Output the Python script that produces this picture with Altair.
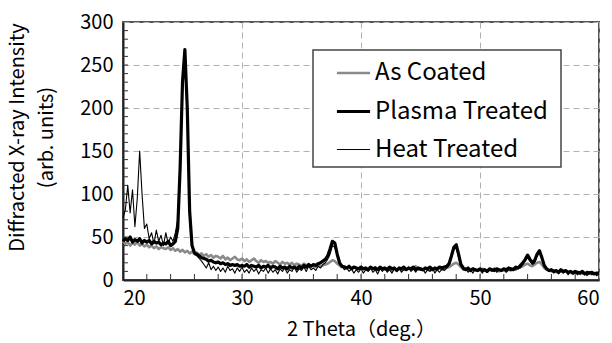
import altair as alt
import pandas as pd

FONT = "Noto Sans CJK JP"

series_names = ["As Coated", "Plasma Treated", "Heat Treated"]
series_colors = ["#8a8a8a", "#000000", "#000000"]
series_widths = [2.6, 3.2, 1.1]

two_theta = [round(20 + 0.2 * i, 1) for i in range(201)]

as_coated = [
    45, 42, 44, 40, 43, 41, 44, 40, 42, 39,
    41, 38, 40, 37, 39, 36, 38, 37, 36, 38,
    35, 37, 34, 36, 33, 35, 32, 34, 31, 33,
    30, 32, 29, 31, 28, 30, 27, 29, 26, 28,
    27, 25, 28, 24, 26, 23, 25, 27, 24, 23,
    25, 22, 24, 21, 23, 25, 22, 20, 23, 21,
    22, 20, 21, 19, 22, 20, 18, 21, 19, 20,
    18, 20, 17, 19, 18, 16, 19, 17, 18, 16,
    17, 15, 18, 16, 17, 18, 19, 21, 23, 22,
    19, 17, 15, 16, 14, 15, 13, 15, 14, 13,
    15, 13, 14, 12, 14, 13, 15, 12, 14, 13,
    12, 14, 13, 11, 14, 12, 13, 11, 13, 12,
    14, 12, 13, 16, 12, 13, 11, 13, 12, 11,
    13, 11, 12, 14, 12, 13, 14, 15, 17, 19,
    20, 18, 15, 12, 13, 11, 12, 13, 11, 12,
    11, 13, 12, 10, 12, 11, 13, 11, 10, 12,
    11, 10, 12, 11, 13, 12, 14, 15, 16, 18,
    19, 17, 16, 18, 20, 21, 18, 14, 12, 11,
    10, 11, 9, 10, 11, 9, 10, 8, 10, 9,
    8, 9, 7, 9, 8, 7, 9, 8, 7, 8,
    7,
]

plasma_treated = [
    45, 48, 46, 50, 44, 47, 45, 48, 43, 46,
    44, 46, 42, 45, 43, 44, 41, 43, 42, 45,
    40, 42, 45, 60, 130, 230, 268, 200, 80, 40,
    32, 30, 28, 26, 25, 24, 22, 23, 21, 20,
    21, 19, 20, 18, 19, 17, 18, 17, 18, 16,
    17, 16, 18, 15, 17, 16, 15, 17, 14, 16,
    15, 17, 14, 16, 15, 13, 16, 14, 15, 13,
    16, 14, 15, 13, 16, 14, 17, 15, 18, 16,
    18, 17, 19, 20, 22, 24, 28, 36, 45, 43,
    30, 20, 16, 15, 14, 16, 13, 15, 14, 13,
    15, 13, 14, 12, 15, 13, 14, 12, 15, 13,
    14, 12, 15, 13, 14, 11, 14, 13, 15, 12,
    14, 13, 15, 12, 14, 13, 12, 14, 13, 15,
    12, 14, 13, 15, 14, 15, 16, 19, 28, 38,
    41, 30, 18, 14, 12, 14, 11, 13, 12, 11,
    13, 11, 12, 10, 13, 12, 11, 13, 12, 11,
    13, 12, 14, 13, 12, 15, 14, 17, 20, 24,
    29, 24, 20, 23, 30, 34, 26, 17, 13, 11,
    12, 10, 11, 9, 12, 10, 11, 9, 10, 8,
    10, 9, 8, 10, 7, 9, 8, 9, 7, 8,
    8,
]

heat_treated = [
    72, 82, 110, 78, 105, 62, 95, 150, 100, 60,
    65, 48, 55, 42, 58, 45, 52, 40, 55, 42,
    50, 45, 55, 70, 140, 225, 262, 190, 70, 38,
    30, 28, 25, 22, 18, 14, 20, 12, 16, 11,
    15, 10, 14, 9, 16, 11, 13, 8, 14, 10,
    15, 9, 12, 8, 14, 10, 13, 7, 12, 10,
    14, 8, 13, 9, 12, 7, 13, 10, 14, 8,
    12, 10, 15, 9, 13, 11, 15, 10, 16, 12,
    14, 11, 16, 14, 18, 20, 24, 30, 40, 38,
    28, 20, 16, 12, 14, 10, 13, 8, 12, 9,
    13, 8, 12, 10, 14, 9, 12, 7, 13, 10,
    14, 9, 12, 8, 13, 10, 14, 9, 12, 11,
    15, 10, 13, 9, 14, 11, 13, 8, 12, 10,
    14, 8, 12, 9, 13, 11, 14, 17, 26, 35,
    38, 26, 16, 12, 14, 9, 12, 8, 13, 10,
    12, 8, 13, 9, 12, 10, 14, 9, 12, 10,
    13, 9, 12, 11, 14, 12, 15, 14, 18, 22,
    26, 22, 18, 20, 28, 32, 25, 16, 12, 10,
    12, 8, 11, 7, 10, 8, 11, 6, 10, 7,
    9, 6, 10, 7, 9, 5, 8, 6, 9, 5,
    7,
]

x_ticks = [20, 30, 40, 50, 60]
y_ticks = [0, 50, 100, 150, 200, 250, 300]
x_minor = list(range(22, 60, 2))
y_minor = list(range(10, 300, 10))

rows = []
for name, vals in zip(series_names, [as_coated, plasma_treated, heat_treated]):
    for t, v in zip(two_theta, vals):
        rows.append({"theta": t, "intensity": v, "sample": name})
df = pd.DataFrame(rows)

x_scale = alt.Scale(domain=[20, 60], nice=False, zero=False)
y_scale = alt.Scale(domain=[0, 300], nice=False)

x_axis = alt.Axis(
    values=x_ticks, title="2 Theta（deg.）", grid=True, labelPadding=8,
    titleY=55, titleBaseline="alphabetic",
)
y_axis = alt.Axis(
    values=y_ticks, title=["Diffracted X-ray Intensity", "(arb. units)"], grid=True,
    labelPadding=10, titleAngle=270, titleX=-106, titleY=115, titleAlign="center",
    titleBaseline="middle", titleLineHeight=29,
)

legend_spacer = "\u00a0"

lines = alt.Chart(df).mark_line(strokeJoin="round").encode(
    x=alt.X("theta:Q", scale=x_scale, axis=x_axis),
    y=alt.Y("intensity:Q", scale=y_scale, axis=y_axis),
    color=alt.Color("sample:N", scale=alt.Scale(domain=series_names, range=series_colors),
                    legend=alt.Legend(title=legend_spacer)),
    strokeWidth=alt.StrokeWidth("sample:N",
                                scale=alt.Scale(type="ordinal", domain=series_names, range=series_widths),
                                legend=alt.Legend(title=legend_spacer)),
    detail="sample:N",
)

y_minor_ticks = alt.Chart(pd.DataFrame({"intensity": y_minor})).mark_rule(color="#333", strokeWidth=1).encode(
    y=alt.Y("intensity:Q", scale=y_scale),
    x=alt.value(0),
    x2=alt.value(5),
)
x_minor_ticks = alt.Chart(pd.DataFrame({"theta": x_minor})).mark_rule(color="#333", strokeWidth=1).encode(
    x=alt.X("theta:Q", scale=x_scale),
    y=alt.value(258),
    y2=alt.value(252),
)

chart = alt.layer(y_minor_ticks, x_minor_ticks, lines).properties(
    width=476, height=258,
    padding={"left": 123, "top": 22, "right": 13, "bottom": 63},
    autosize=alt.AutoSizeParams(type="none"),
    background="white",
).configure_view(
    stroke="#555", strokeWidth=2,
).configure_axis(
    labelFont=FONT, titleFont=FONT, labelFontSize=20, titleFontSize=20,
    labelColor="#000", titleColor="#000", titleFontWeight="normal",
    domainColor="#222", domainWidth=2, ticks=False,
    gridColor="#b0b0b0", gridDash=[6, 4], gridWidth=1,
).configure_legend(
    orient="none", legendX=190, legendY=28,
    strokeColor="#444", strokeWidth=1.5, fillColor="white",
    padding=5, labelFont=FONT, labelFontSize=24, labelColor="#000",
    symbolType="stroke", symbolSize=1100, symbolOffset=17, labelOffset=3,
    rowPadding=8, labelLimit=400,
    titleOrient="right", titlePadding=8, titleFontSize=10, titleFont=FONT,
)

chart.save("out.html", embed_options={"renderer": "svg", "actions": False})
